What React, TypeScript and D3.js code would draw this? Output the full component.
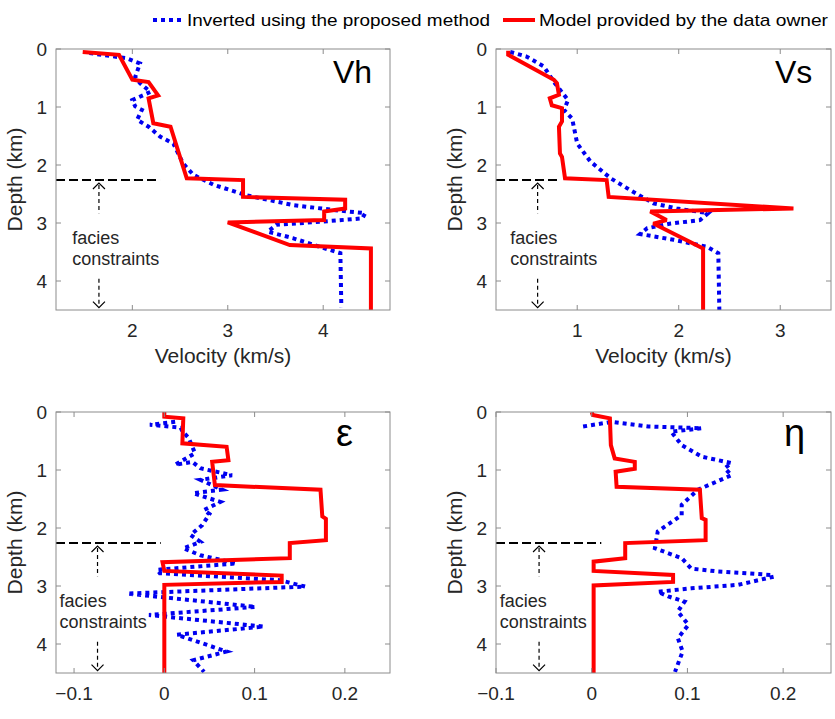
import React from 'react';
import * as d3 from 'd3';

// ticks
const depthTicks = [0, 1, 2, 3, 4];
const vhTicks = [2, 3, 4];
const vsTicks = [1, 2, 3];
const epsTicks = [-0.1, 0, 0.1, 0.2];
const etaTicks = [-0.1, 0, 0.1, 0.2];

const legendLabels = ['Inverted using the proposed method', 'Model provided by the data owner'];

// [value, depth (km)]
const vhModel: [number, number][] = [
  [1.48, 0.05], [1.86, 0.1], [2.0, 0.53], [2.17, 0.57], [2.27, 0.8], [2.17, 0.85],
  [2.22, 1.28], [2.4, 1.34], [2.57, 2.23], [3.16, 2.26], [3.16, 2.55], [4.23, 2.6],
  [4.23, 2.75], [4.01, 2.8], [4.01, 2.95], [3.0, 2.99], [3.65, 3.38], [4.5, 3.44], [4.5, 4.5],
];
const vhInverted: [number, number][] = [
  [1.55, 0.07], [1.94, 0.16], [2.08, 0.25], [2.03, 0.48], [2.08, 0.59], [2.19, 0.74],
  [2.0, 0.88], [2.03, 0.99], [2.1, 1.05], [2.05, 1.22], [2.17, 1.34], [2.29, 1.51],
  [2.43, 1.63], [2.53, 1.97], [2.64, 2.17], [2.85, 2.34], [3.19, 2.52], [3.68, 2.69],
  [4.13, 2.78], [4.44, 2.83], [4.41, 2.92], [3.96, 2.98], [3.51, 3.03], [3.42, 3.15],
  [3.68, 3.26], [3.96, 3.41], [4.18, 3.52], [4.19, 4.45],
];

const vsModel: [number, number][] = [
  [0.32, 0.03], [0.32, 0.1], [0.77, 0.53], [0.8, 0.59], [0.82, 0.79], [0.73, 0.85],
  [0.75, 0.97], [0.85, 1.02], [0.85, 1.25], [0.82, 1.34], [0.83, 1.8], [0.85, 1.86],
  [0.88, 2.23], [1.29, 2.26], [1.31, 2.55], [3.13, 2.75], [1.72, 2.8], [1.88, 2.95],
  [1.75, 3.01], [2.24, 3.44], [2.24, 4.5],
];
const vsInverted: [number, number][] = [
  [0.34, 0.05], [0.5, 0.13], [0.67, 0.3], [0.78, 0.59], [0.91, 0.88], [0.87, 1.05],
  [0.95, 1.2], [1.0, 1.63], [1.13, 1.94], [1.33, 2.23], [1.52, 2.43], [1.75, 2.66],
  [1.98, 2.75], [2.29, 2.83], [2.21, 2.95], [1.92, 3.01], [1.69, 3.09], [1.62, 3.19],
  [1.95, 3.29], [2.28, 3.41], [2.39, 3.52], [2.4, 4.5],
];

const epsModel: [number, number][] = [
  [0.0, 0.0], [0.0, 0.08], [0.021, 0.11], [0.02, 0.54], [0.069, 0.6], [0.071, 0.83],
  [0.053, 0.86], [0.056, 1.26], [0.173, 1.34], [0.175, 1.8], [0.179, 1.84], [0.179, 2.21],
  [0.139, 2.26], [0.139, 2.52], [-0.002, 2.59], [0.0, 2.74], [0.13, 2.82], [0.13, 2.93],
  [0.0, 2.98], [0.0, 4.5],
];
const epsInverted: [number, number][] = [
  [0.012, 0.17], [-0.016, 0.22], [0.018, 0.27], [0.02, 0.33], [0.027, 0.45], [0.034, 0.71],
  [0.012, 0.91], [0.031, 0.86], [0.04, 0.97], [0.075, 1.09], [0.04, 1.17], [0.064, 1.34],
  [0.032, 1.4], [0.062, 1.55], [0.044, 1.69], [0.05, 1.76], [0.042, 1.95], [0.029, 2.12],
  [0.04, 2.24], [0.021, 2.35], [0.04, 2.47], [0.08, 2.61], [-0.008, 2.72], [-0.005, 2.78],
  [0.128, 2.9], [0.156, 3.01], [-0.041, 3.13], [0.101, 3.36], [-0.017, 3.5], [0.11, 3.7],
  [0.014, 3.84], [0.069, 4.13], [0.032, 4.28], [0.044, 4.48],
];

const etaModel: [number, number][] = [
  [0.0, 0.0], [0.001, 0.05], [0.019, 0.11], [0.02, 0.57], [0.024, 0.8], [0.045, 0.86],
  [0.045, 0.98], [0.025, 1.03], [0.026, 1.29], [0.113, 1.34], [0.115, 1.83], [0.119, 1.86],
  [0.119, 2.21], [0.035, 2.26], [0.035, 2.52], [0.002, 2.58], [0.002, 2.74], [0.085, 2.81],
  [0.085, 2.93], [0.002, 2.99], [0.002, 4.5],
];
const etaInverted: [number, number][] = [
  [-0.009, 0.25], [0.021, 0.17], [0.059, 0.25], [0.115, 0.28], [0.083, 0.34], [0.094, 0.57],
  [0.115, 0.77], [0.146, 0.88], [0.139, 0.97], [0.146, 1.09], [0.111, 1.34], [0.094, 1.6],
  [0.094, 1.78], [0.069, 2.06], [0.066, 2.35], [0.094, 2.52], [0.104, 2.7], [0.132, 2.75],
  [0.188, 2.81], [0.19, 2.84], [0.153, 2.98], [0.104, 3.04], [0.069, 3.1], [0.08, 3.18],
  [0.097, 3.27], [0.09, 3.44], [0.101, 3.67], [0.09, 3.9], [0.095, 4.13], [0.087, 4.48],
];

// facies annotation depths (km)
const faciesTop = 2.26;
const arrowUp = [2.31, 2.83];
const arrowDown = [3.96, 4.46];
const faciesLines = [['facies', 3.36], ['constraints', 3.73]] as const;

const RED = '#ff0000';
const BLUE = '#0000f0';
const AXIS = '#8c8c8c';
const TXT = '#262626';
const FONT = '"Liberation Sans", Arial, Helvetica, sans-serif';

type PanelProps = {
  left: number; top: number; width: number; height: number;
  xDomain: [number, number]; xTicks: number[]; fmt: (v: number) => string;
  model: [number, number][]; inverted: [number, number][];
  title: string; titleX: number; titleSize: number; xLabel?: string;
  lineEnd: number; arrowX: number; textX: number;
};

function Panel(p: PanelProps) {
  const x = d3.scaleLinear().domain(p.xDomain).range([p.left, p.left + p.width]);
  const y = d3.scaleLinear().domain([0, 4.5]).range([p.top, p.top + p.height]);
  const line = d3.line<[number, number]>().x((d) => x(d[0])).y((d) => y(d[1]));
  const bottom = p.top + p.height;
  const right = p.left + p.width;
  const tl = 5;
  const ax = x(p.arrowX);
  const upTip = y(arrowUp[0]);
  const downTip = y(arrowDown[1]);
  return (
    <g>
      <defs>
        <clipPath id={`clip-${p.title}`}>
          <rect x={p.left} y={p.top} width={p.width} height={p.height} />
        </clipPath>
      </defs>
      <rect x={p.left} y={p.top} width={p.width} height={p.height} fill="white" />
      <g clipPath={`url(#clip-${p.title})`}>
        <path d={line(p.inverted) || ''} fill="none" stroke={BLUE} strokeWidth={4} strokeDasharray="4 4" />
        <path d={line(p.model) || ''} fill="none" stroke={RED} strokeWidth={4} strokeLinejoin="miter" strokeMiterlimit={2} />
      </g>
      {/* facies annotation */}
      <line x1={p.left} x2={x(p.lineEnd)} y1={y(faciesTop)} y2={y(faciesTop)} stroke="black" strokeWidth={2} strokeDasharray="9 4" />
      <line x1={ax} x2={ax} y1={upTip + 2} y2={y(arrowUp[1])} stroke="black" strokeWidth={1.2} strokeDasharray="4 3" />
      <path d={`M${ax - 6},${upTip + 6}L${ax},${upTip}L${ax + 6},${upTip + 6}`} fill="none" stroke="black" strokeWidth={1.2} />
      <line x1={ax} x2={ax} y1={y(arrowDown[0])} y2={downTip - 2} stroke="black" strokeWidth={1.2} strokeDasharray="4 3" />
      <path d={`M${ax - 6},${downTip - 6}L${ax},${downTip}L${ax + 6},${downTip - 6}`} fill="none" stroke="black" strokeWidth={1.2} />
      {faciesLines.map(([t, d]) => (
        <text key={t} x={x(p.textX)} y={y(d)} fontSize={18} fill={TXT} fontFamily={FONT}>{t}</text>
      ))}
      {/* box & ticks */}
      <rect x={p.left} y={p.top} width={p.width} height={p.height} fill="none" stroke={AXIS} strokeWidth={1} />
      {p.xTicks.map((t) => (
        <g key={`x${t}`}>
          <line x1={x(t)} x2={x(t)} y1={bottom} y2={bottom - tl} stroke={AXIS} />
          <line x1={x(t)} x2={x(t)} y1={p.top} y2={p.top + tl} stroke={AXIS} />
          <text x={x(t)} y={bottom + 27} textAnchor="middle" fontSize={19} fill={TXT} fontFamily={FONT}>{p.fmt(t)}</text>
        </g>
      ))}
      {depthTicks.map((t) => (
        <g key={`y${t}`}>
          <line x1={p.left} x2={p.left + tl} y1={y(t)} y2={y(t)} stroke={AXIS} />
          <line x1={right} x2={right - tl} y1={y(t)} y2={y(t)} stroke={AXIS} />
          <text x={p.left - 9} y={y(t) + 7} textAnchor="end" fontSize={19} fill={TXT} fontFamily={FONT}>{t}</text>
        </g>
      ))}
      <text transform={`translate(${p.left - 34},${(p.top + bottom) / 2}) rotate(-90)`} textAnchor="middle" fontSize={21} fill={TXT} fontFamily={FONT}>Depth (km)</text>
      {p.xLabel && (
        <text x={(p.left + right) / 2} y={bottom + 53} textAnchor="middle" fontSize={21} fill={TXT} fontFamily={FONT}>{p.xLabel}</text>
      )}
      <text x={p.titleX} y={p.top + 34} fontSize={p.titleSize} fill="black" fontFamily={FONT}>{p.title}</text>
    </g>
  );
}

export default function App() {
  const intFmt = (v: number) => String(v);
  const decFmt = (v: number) => (v === 0 ? '0' : d3.format('.1f')(v));
  return (
    <svg width={835} height={719} style={{ position: 'absolute', left: 0, top: 0, background: 'white' }}>
      <rect width={835} height={719} fill="white" />
      {/* legend */}
      <line x1={153} x2={183} y1={20} y2={20} stroke={BLUE} strokeWidth={4} strokeDasharray="4 4" />
      <text x={187} y={26} fontSize={17} fill="black" fontFamily={FONT} textLength={303} lengthAdjust="spacingAndGlyphs">{legendLabels[0]}</text>
      <line x1={503} x2={535} y1={20} y2={20} stroke={RED} strokeWidth={4} />
      <text x={539} y={26} fontSize={17} fill="black" fontFamily={FONT} textLength={289} lengthAdjust="spacingAndGlyphs">{legendLabels[1]}</text>

      <Panel left={56} top={49} width={334} height={261} xDomain={[1.2, 4.7]} xTicks={vhTicks} fmt={intFmt}
        model={vhModel} inverted={vhInverted} title="Vh" titleX={333} titleSize={32} xLabel="Velocity (km/s)"
        lineEnd={2.29} arrowX={1.65} textX={1.37} />
      <Panel left={496} top={49} width={335} height={261} xDomain={[0.2, 3.5]} xTicks={vsTicks} fmt={intFmt}
        model={vsModel} inverted={vsInverted} title="Vs" titleX={775} titleSize={32} xLabel="Velocity (km/s)"
        lineEnd={0.83} arrowX={0.61} textX={0.34} />
      <Panel left={56} top={412} width={334} height={261} xDomain={[-0.12, 0.25]} xTicks={epsTicks} fmt={decFmt}
        model={epsModel} inverted={epsInverted} title="ε" titleX={336} titleSize={38}
        lineEnd={-0.004} arrowX={-0.074} textX={-0.116} />
      <Panel left={496} top={412} width={335} height={261} xDomain={[-0.1, 0.25]} xTicks={etaTicks} fmt={decFmt}
        model={etaModel} inverted={etaInverted} title="η" titleX={784} titleSize={38}
        lineEnd={0.01} arrowX={-0.055} textX={-0.096} />
    </svg>
  );
}
